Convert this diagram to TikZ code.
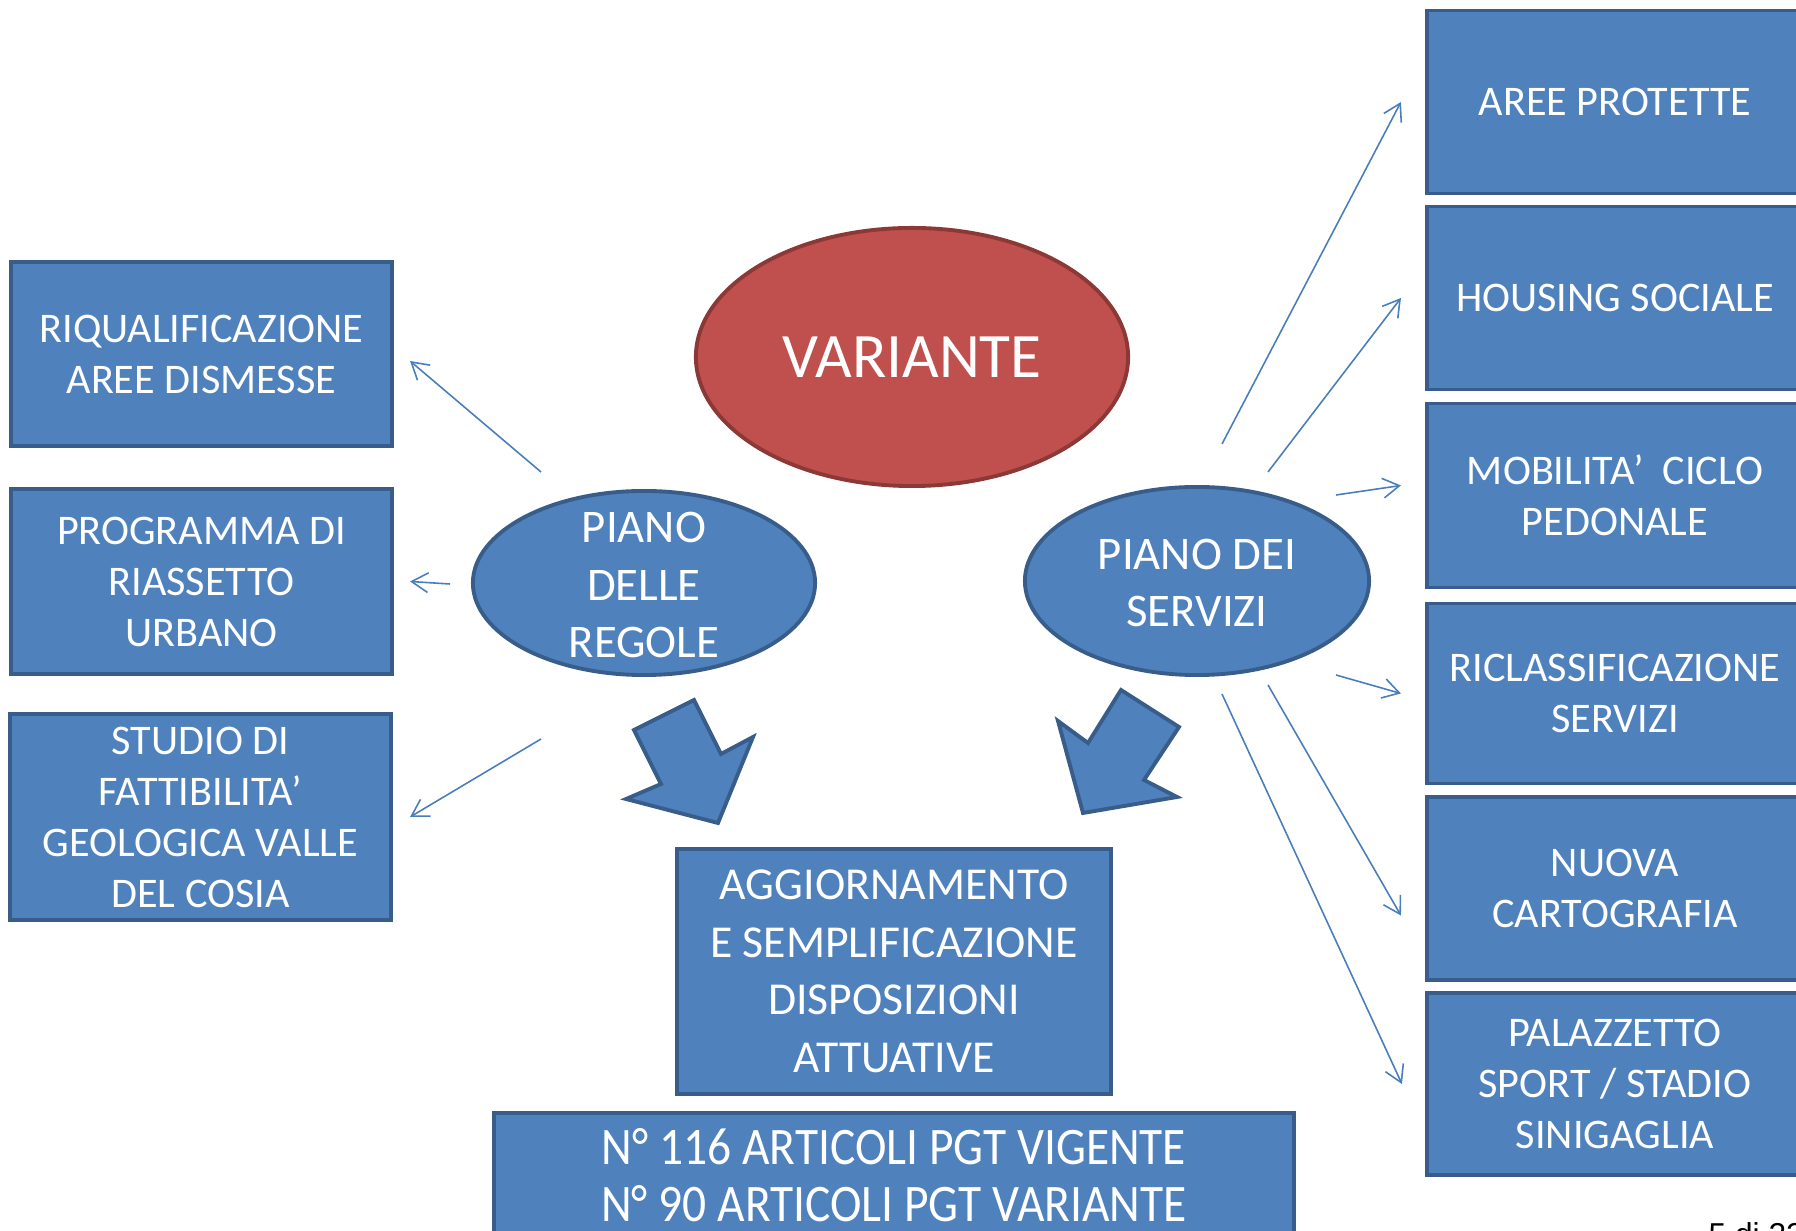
\documentclass[tikz,border=0pt]{standalone}
\usepackage{fontspec}
\setmainfont{Carlito}
\newfontfamily\narrowfont[FakeStretch=0.9]{Carlito}
\newfontfamily\pagefont{Liberation Sans}
\usetikzlibrary{shapes.geometric,arrows.meta}
\definecolor{boxblue}{HTML}{4F81BD}
\definecolor{boxline}{HTML}{385D8A}
\definecolor{redfill}{HTML}{C0504D}
\definecolor{redline}{HTML}{8C3836}
\definecolor{linkblue}{HTML}{4A7EBB}

\begin{document}
\begin{tikzpicture}[x=0.01cm,y=-0.01cm,
    box/.style={rectangle, draw=boxline, fill=boxblue, line width=1.1pt, text=white,
      align=center, inner sep=0pt, minimum width=3.81cm, minimum height=1.84cm,
      font=\fontsize{12}{14.5}\selectfont},
    bubble/.style={ellipse, draw=boxline, fill=boxblue, line width=1.1pt, inner sep=0pt},
    bubbletext/.style={text=white, align=center, font=\fontsize{13.3}{16.4}\selectfont},
    link/.style={draw=linkblue, line width=0.45pt, -{Straight Barb[length=4.7pt,width=5.6pt]}},
    bigarrow/.style={draw=boxline, fill=boxblue, line width=1.1pt, line join=miter}]
  \useasboundingbox (0,0) rectangle (1796,1231);

  \node [ellipse, draw=redline, fill=redfill, line width=1.1pt, inner sep=0pt,
    minimum width=4.32cm, minimum height=2.58cm, text=white,
    font=\fontsize{18}{22}\selectfont] (variante) at (912,357) {VARIANTE};

  \node [bubble, minimum width=3.42cm, minimum height=1.84cm] (regole) at (644,583) {};
  \node [bubbletext] (regoletxt) at (644,585) {PIANO\\DELLE\\REGOLE};
  \node [bubble, minimum width=3.44cm, minimum height=1.88cm] (servizi) at (1197,581) {};
  \node [bubbletext] (servizitxt) at (1197,583) {PIANO DEI\\SERVIZI};

  \node [box] (riqual) at (201.5,354) {RIQUALIFICAZIONE\\AREE DISMESSE};
  \node [box, minimum height=1.85cm] (programma) at (201.5,581.5) {PROGRAMMA DI\\RIASSETTO\\URBANO};
  \node [box, minimum height=2.06cm] (studio) at (200.5,817) {STUDIO DI\\FATTIBILITA’\\GEOLOGICA VALLE\\DEL COSIA};

  \node [box, minimum width=3.76cm, minimum height=1.83cm] (aree) at (1615,102) {AREE PROTETTE};
  \node [box, minimum width=3.76cm, minimum height=1.83cm] (housing) at (1615,298) {HOUSING SOCIALE};
  \node [box, minimum width=3.76cm, minimum height=1.84cm] (mobilita) at (1615,495.5) {MOBILITA’\ \ CICLO\\PEDONALE};
  \node [box, minimum width=3.76cm, minimum height=1.80cm] (riclass) at (1615,693.5) {RICLASSIFICAZIONE\\SERVIZI};
  \node [box, minimum width=3.76cm, minimum height=1.83cm] (nuova) at (1615,888.5) {NUOVA\\CARTOGRAFIA};
  \node [box, minimum width=3.76cm, minimum height=1.82cm] (palazzetto) at (1615,1084) {PALAZZETTO\\SPORT / STADIO\\SINIGAGLIA};

  \node [box, minimum width=4.34cm, minimum height=2.45cm, font=\fontsize{13}{16.4}\selectfont]
    (aggiorn) at (894,971.5) {AGGIORNAMENTO\\E SEMPLIFICAZIONE\\DISPOSIZIONI\\ATTUATIVE};
  \node [box, minimum width=8.0cm, minimum height=1.24cm, font=\narrowfont\fontsize{15}{16.3}\selectfont]
    (articoli) at (894,1175) {N° 116 ARTICOLI PGT VIGENTE\\N° 90 ARTICOLI PGT VARIANTE};

  \node [anchor=base west, inner sep=0pt, font=\pagefont\fontsize{9}{11}\selectfont] (pagina) at (1708,1246) {5 di 22};

  \draw [bigarrow] (634,730) -- (694,700) -- (721,754) -- (753,737) -- (718,823) -- (626,799) -- (661,784) -- cycle;
  \draw [bigarrow] (1121,690) -- (1179,727) -- (1144,780) -- (1177,797) -- (1083,813) -- (1058,721) -- (1088,743) -- cycle;

  \coordinate (r1) at (541,472);
  \coordinate (r2) at (450,584);
  \coordinate (r3) at (541,739);
  \coordinate (s1) at (1222,444);
  \coordinate (s2) at (1268,472);
  \coordinate (s3) at (1336,495);
  \coordinate (s4) at (1336,675);
  \coordinate (s5) at (1268,685);
  \coordinate (s6) at (1222,694);

  \draw [link] (r1) -- ([xshift=0.16cm,yshift=-0.07cm]riqual.east);
  \draw [link] (r2) -- ([xshift=0.16cm]programma.east);
  \draw [link] (r3) -- ([xshift=0.17cm]studio.east);
  \draw [link] (s1) -- ([xshift=-0.24cm]aree.west);
  \draw [link] (s2) -- ([xshift=-0.24cm]housing.west);
  \draw [link] (s3) -- ([xshift=-0.24cm,yshift=0.10cm]mobilita.west);
  \draw [link] (s4) -- ([xshift=-0.24cm]riclass.west);
  \draw [link] (s5) -- ([xshift=-0.24cm,yshift=-0.27cm]nuova.west);
  \draw [link] (s6) -- ([xshift=-0.23cm]palazzetto.west);
\end{tikzpicture}
\end{document}
